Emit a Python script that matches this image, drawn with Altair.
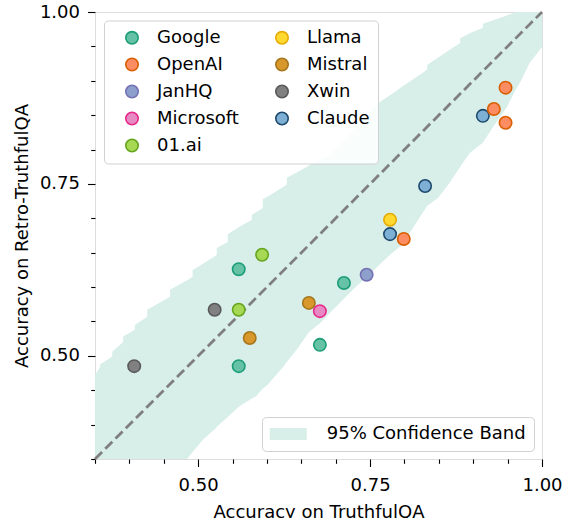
import altair as alt
import pandas as pd

FONT = "DejaVu Sans"

# ---- categories / colours ----
orgs = ["Google", "OpenAI", "JanHQ", "Microsoft", "01.ai", "Llama", "Mistral", "Xwin", "Claude"]
fill_colors = ["#66c2a5", "#fc8d62", "#8da0cb", "#e78ac3", "#a6d854", "#ffd92f", "#d9982b", "#808080", "#7eb0d5"]
edge_colors = ["#1b9e77", "#d95f02", "#7570b3", "#e7298a", "#66a61e", "#e6ab02", "#a6761d", "#5a5a5a", "#1f4a6e"]

# ---- scatter points ----
point_org = ["Xwin", "Xwin", "Google", "Google", "01.ai", "01.ai", "Mistral", "Mistral", "Microsoft",
             "Google", "Google", "JanHQ", "Llama", "Claude", "OpenAI", "Claude", "Claude",
             "OpenAI", "OpenAI", "OpenAI"]
point_x = [0.407, 0.524, 0.559, 0.559, 0.559, 0.593, 0.575, 0.661, 0.677,
           0.677, 0.712, 0.745, 0.779, 0.779, 0.799, 0.830, 0.914,
           0.930, 0.947, 0.947]
point_y = [0.485, 0.567, 0.626, 0.485, 0.567, 0.647, 0.526, 0.577, 0.565,
           0.516, 0.606, 0.618, 0.698, 0.677, 0.670, 0.747, 0.849,
           0.859, 0.890, 0.839]

# ---- 95% confidence band ----
band_x = [0.350, 0.357, 0.357, 0.375, 0.375, 0.391, 0.391, 0.408, 0.408, 0.426, 0.426,
          0.459, 0.459, 0.484, 0.492, 0.492, 0.507, 0.526, 0.527, 0.527, 0.542, 0.543,
          0.543, 0.559, 0.578, 0.578, 0.583, 0.594, 0.594, 0.602, 0.623, 0.629, 0.629,
          0.644, 0.660, 0.663, 0.679, 0.692, 0.699, 0.725, 0.728, 0.760, 0.764, 0.779,
          0.796, 0.818, 0.833, 0.833, 0.849, 0.866, 0.881, 0.881, 0.895, 0.914, 0.914,
          0.929, 0.949, 0.963, 0.968, 0.982, 1.000]
band_upper = [0.472, 0.483, 0.487, 0.499, 0.506, 0.520, 0.528, 0.538, 0.545, 0.557, 0.567,
              0.586, 0.596, 0.610, 0.615, 0.625, 0.634, 0.646, 0.647, 0.657, 0.665, 0.666,
              0.677, 0.687, 0.698, 0.705, 0.708, 0.715, 0.728, 0.732, 0.745, 0.749, 0.759,
              0.767, 0.776, 0.778, 0.786, 0.792, 0.800, 0.828, 0.831, 0.865, 0.869, 0.879,
              0.891, 0.906, 0.916, 0.923, 0.934, 0.945, 0.955, 0.962, 0.969, 0.977, 0.983,
              0.988, 0.995, 1.000, 1.000, 1.000, 1.000]
band_lower = [0.350, 0.350, 0.350, 0.350, 0.350, 0.350, 0.350, 0.350, 0.350, 0.350, 0.350,
              0.350, 0.350, 0.350, 0.360, 0.360, 0.378, 0.395, 0.397, 0.397, 0.410, 0.411,
              0.411, 0.426, 0.438, 0.438, 0.440, 0.452, 0.452, 0.459, 0.483, 0.491, 0.491,
              0.510, 0.533, 0.536, 0.549, 0.563, 0.570, 0.596, 0.599, 0.629, 0.633, 0.647,
              0.661, 0.695, 0.718, 0.718, 0.730, 0.752, 0.775, 0.775, 0.795, 0.810, 0.810,
              0.833, 0.862, 0.889, 0.897, 0.926, 0.949]
band_label = "95% Confidence Band"
band_color = "#d8efe9"

# ---- diagonal and ticks ----
diag = [0.35, 1.0]
tick_values = [0.35, 0.4, 0.45, 0.5, 0.55, 0.6, 0.65, 0.7, 0.75, 0.8, 0.85, 0.9, 0.95, 1.0]
major_ticks = [0.5, 0.75, 1.0]

pts = pd.DataFrame({"org": point_org, "x": point_x, "y": point_y})
band = pd.DataFrame({"x": band_x, "upper": band_upper, "lower": band_lower, "label": band_label})
line = pd.DataFrame({"x": diag, "y": diag})

major_test = " || ".join(f"datum.value == {v}" for v in major_ticks)


def make_axis(title, label_pad, title_pad):
    return alt.Axis(
        title=title, values=tick_values, format=".2f",
        labelExpr=f"({major_test}) ? datum.label : ''",
        labelOverlap=False, labelFlush=False, grid=False, domain=False,
        tickSize=7.5, tickWidth=1.1, tickColor="black",
        tickDash={"condition": {"test": f"!({major_test})", "value": [4.3, 30]}, "value": []},
        labelFont=FONT, labelFontSize=18, labelColor="black", labelPadding=label_pad,
        titleFont=FONT, titleFontSize=18, titleFontWeight="normal", titleColor="black",
        titlePadding=title_pad,
    )


xaxis = make_axis("Accuracy on TruthfulQA", 10, 9)
yaxis = make_axis("Accuracy on Retro-TruthfulQA", 8, 8)
xscale = alt.Scale(domain=[0.35, 1.0], nice=False, zero=False)
yscale = alt.Scale(domain=[0.35, 1.0], nice=False, zero=False)

leg1 = alt.Legend(
    title=None, orient="none", legendX=9, legendY=8.5, columns=2, columnPadding=23,
    rowPadding=7, symbolType="circle", symbolSize=154, symbolStrokeWidth=1.6,
    symbolOffset=11, labelOffset=16, labelFont=FONT, labelFontSize=18, labelColor="black",
    labelLimit=300, padding=8, fillColor="rgba(255,255,255,0.85)", strokeColor="#d0d0d0",
    cornerRadius=4, symbolOpacity=1,
)
leg2 = alt.Legend(
    title=None, orient="bottom-right", offset=8, symbolType="M-2,-0.66H2V0.66H-2Z",
    symbolSize=342, symbolStrokeWidth=0, symbolOffset=9.25, labelOffset=29,
    labelFont=FONT, labelFontSize=18, labelColor="black", labelLimit=400, padding=7.5,
    fillColor="rgba(255,255,255,0.85)", strokeColor="#d0d0d0", cornerRadius=4, symbolOpacity=1,
)

band_layer = alt.Chart(band).mark_area(opacity=1, interpolate="linear").encode(
    x=alt.X("x:Q", scale=xscale, axis=xaxis),
    y=alt.Y("upper:Q", scale=yscale, axis=yaxis),
    y2="lower:Q",
    color=alt.Color("label:N", scale=alt.Scale(range=[band_color]), legend=leg2),
)

diag_layer = alt.Chart(line).mark_line(color="#7f7f7f", strokeWidth=2.8, strokeDash=[10, 4.5]).encode(
    x=alt.X("x:Q", scale=xscale, axis=xaxis),
    y=alt.Y("y:Q", scale=yscale, axis=yaxis),
)

point_layer = alt.Chart(pts).mark_circle(size=154, opacity=1, strokeWidth=1.6).encode(
    x=alt.X("x:Q", scale=xscale, axis=xaxis),
    y=alt.Y("y:Q", scale=yscale, axis=yaxis),
    fill=alt.Fill("org:N", scale=alt.Scale(domain=orgs, range=fill_colors), legend=leg1),
    stroke=alt.Stroke("org:N", scale=alt.Scale(domain=orgs, range=edge_colors), legend=leg1),
)

chart = alt.layer(band_layer, diag_layer, point_layer).properties(
    width=447, height=447,
    autosize=alt.AutoSizeParams(type="none"),
    padding={"left": 95, "top": 12, "right": 21, "bottom": 59},
    background="white",
).configure_view(stroke="black", strokeWidth=1.1).configure(font=FONT)

chart.save("out.html", embed_options={"renderer": "svg", "actions": False})
